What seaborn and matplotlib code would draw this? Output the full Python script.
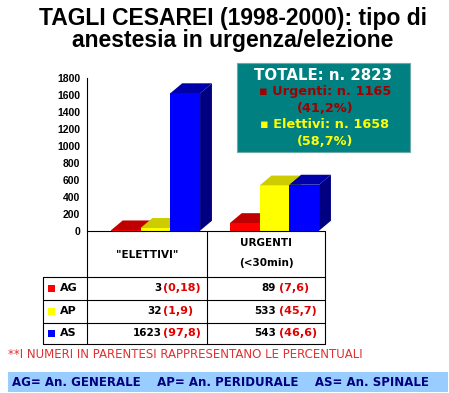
import pandas as pd
import matplotlib.pyplot as plt
import seaborn as sns
from matplotlib.patches import Polygon, Rectangle
from matplotlib.lines import Line2D

# data
categories = ['"ELETTIVI"', 'URGENTI']
anestesia = ['AG', 'AP', 'AS']
elettivi = [3, 32, 1623]
urgenti = [89, 533, 543]
elettivi_pct = ['(0,18)', '(1,9)', '(97,8)']
urgenti_pct = ['(7,6)', '(45,7)', '(46,6)']
y_ticks = [0, 200, 400, 600, 800, 1000, 1200, 1400, 1600, 1800]

front_colors = ['#FF0000', '#FFFF00', '#0000FF']
top_colors = ['#C00000', '#CCCC00', '#0000AA']
side_colors = ['#800000', '#999900', '#000080']

W, H = 449, 393


def fx(x):
    return x / W


def fy(y):
    return 1 - y / H


def main():
    sns.set_theme(style="white")
    plt.rcParams['font.family'] = ['Liberation Sans', 'DejaVu Sans']
    plt.rcParams['text.color'] = 'black'
    plt.rcParams['ytick.color'] = 'black'

    fig = plt.figure(figsize=(W / 100, H / 100), dpi=100)
    fig.patch.set_facecolor('white')

    # bar axes
    ax_l, ax_r, ax_t, ax_b = 87, 325, 78.3, 230.7
    ax = fig.add_axes([fx(ax_l), fy(ax_b), fx(ax_r - ax_l), (ax_b - ax_t) / H])
    df = pd.DataFrame({
        'cat': categories * 3,
        'tipo': [a for a in anestesia for _ in categories],
        'n': [v for pair in zip(elettivi, urgenti) for v in pair],
    })
    sns.barplot(data=df, x='cat', y='n', hue='tipo', order=categories,
                hue_order=anestesia, palette=front_colors, width=0.75,
                saturation=1, legend=False, ax=ax, zorder=3, linewidth=0)
    ax.set_xlim(-0.575, 1.425)
    ax.set_ylim(0, 1800)

    # fake 3D depth
    dx, dy = 0.1, 118
    for i, cont in enumerate(ax.containers):
        for p in cont:
            x0, y0 = p.get_x(), p.get_y()
            x1, y1 = x0 + p.get_width(), y0 + p.get_height()
            ax.add_patch(Polygon([(x1, y0), (x1 + dx, y0 + dy), (x1 + dx, y1 + dy), (x1, y1)],
                                 closed=True, facecolor=side_colors[i], edgecolor='none',
                                 zorder=2, clip_on=False))
            ax.add_patch(Polygon([(x0, y1), (x1, y1), (x1 + dx, y1 + dy), (x0 + dx, y1 + dy)],
                                 closed=True, facecolor=top_colors[i], edgecolor='none',
                                 zorder=2, clip_on=False))

    ax.set_yticks(y_ticks)
    ax.set_yticklabels([str(t) for t in y_ticks], fontsize=7.5, fontweight='bold',
                       color='black')
    ax.set_xticks([])
    ax.set_xlabel('')
    ax.set_ylabel('')
    for s in ['top', 'right', 'bottom']:
        ax.spines[s].set_visible(False)
    ax.spines['left'].set_color('black')
    ax.spines['left'].set_linewidth(0.8)
    ax.tick_params(axis='y', direction='out', length=3, width=0.8, color='black', pad=2)
    ax.set_facecolor('none')

    # title
    fig.text(fx(233), fy(18), 'TAGLI CESAREI (1998-2000): tipo di', ha='center', va='center',
             fontsize=16.5, fontweight='bold', color='black')
    fig.text(fx(233), fy(41), 'anestesia in urgenza/elezione', ha='center', va='center',
             fontsize=16.5, fontweight='bold', color='black')

    # summary box
    fig.add_artist(Rectangle((fx(237), fy(152)), fx(410 - 237), (152 - 63) / H,
                             facecolor='#008080', edgecolor='#6FA8A8', linewidth=0.8))
    box_font = ['DejaVu Sans']
    fig.text(fx(323), fy(75), 'TOTALE: n. 2823', ha='center', va='center', color='white',
             fontsize=10.8, fontweight='bold', family=box_font)
    fig.text(fx(325), fy(92), '▪ Urgenti: n. 1165', ha='center', va='center', color='#A00000',
             fontsize=9.3, fontweight='bold', family=box_font)
    fig.text(fx(325), fy(108), '(41,2%)', ha='center', va='center', color='#A00000',
             fontsize=9.3, fontweight='bold', family=box_font)
    fig.text(fx(325), fy(125), '▪ Elettivi: n. 1658', ha='center', va='center', color='#FFFF00',
             fontsize=9.3, fontweight='bold', family=box_font)
    fig.text(fx(325), fy(141), '(58,7%)', ha='center', va='center', color='#FFFF00',
             fontsize=9.3, fontweight='bold', family=box_font)

    # table
    def line(x0, y0, x1, y1, c='black', lw=0.8):
        fig.add_artist(Line2D([fx(x0), fx(x1)], [fy(y0), fy(y1)], color=c, linewidth=lw))

    rows = [276.7, 300, 322.7, 344]
    line(87, ax_b, 325, ax_b)
    line(87, ax_b, 87, 344)
    line(207, ax_b, 207, 344)
    line(325, ax_b, 325, 344)
    line(43, 276.7, 43, 344)
    for y in rows:
        line(43, y, 325, y)

    tfont = ['DejaVu Sans']
    fig.text(fx(147), fy(255), categories[0], ha='center', va='center', fontsize=7.5,
             fontweight='bold', family=tfont)
    fig.text(fx(266), fy(243), categories[1], ha='center', va='center', fontsize=7.5,
             fontweight='bold', family=tfont)
    fig.text(fx(266), fy(263), '(<30min)', ha='center', va='center', fontsize=7.5,
             fontweight='bold', family=tfont)

    for i, lab in enumerate(anestesia):
        yc = (rows[i] + rows[i + 1]) / 2
        fig.add_artist(Rectangle((fx(48), fy(yc + 3.5)), fx(7), 7 / H,
                                 facecolor=front_colors[i], edgecolor='none'))
        fig.text(fx(60), fy(yc), lab, ha='left', va='center', fontsize=8, fontweight='bold',
                 family=tfont)
        fig.text(fx(162), fy(yc), str(elettivi[i]), ha='right', va='center', fontsize=7.5,
                 fontweight='bold', family=tfont)
        fig.text(fx(163), fy(yc), elettivi_pct[i], ha='left', va='center', fontsize=8,
                 fontweight='bold', color='#E00000', family=tfont)
        fig.text(fx(276), fy(yc), str(urgenti[i]), ha='right', va='center', fontsize=7.5,
                 fontweight='bold', family=tfont)
        fig.text(fx(279), fy(yc), urgenti_pct[i], ha='left', va='center', fontsize=8,
                 fontweight='bold', color='#E00000', family=tfont)

    # footnote
    fig.text(fx(8), fy(355), '**I NUMERI IN PARENTESI RAPPRESENTANO LE PERCENTUALI',
             ha='left', va='center', fontsize=8.5, color='#E03030', family=['DejaVu Sans'])

    # legend band
    fig.add_artist(Rectangle((fx(8), fy(392)), fx(440), 20 / H,
                             facecolor='#99CCFF', edgecolor='none'))
    fig.text(fx(12), fy(382), 'AG= An. GENERALE    AP= An. PERIDURALE    AS= An. SPINALE',
             ha='left', va='center', fontsize=8.5, fontweight='bold', color='#000080',
             family=['DejaVu Sans'])

    fig.savefig('out.png', dpi=100)
    plt.close(fig)


if __name__ == "__main__":
    main()
